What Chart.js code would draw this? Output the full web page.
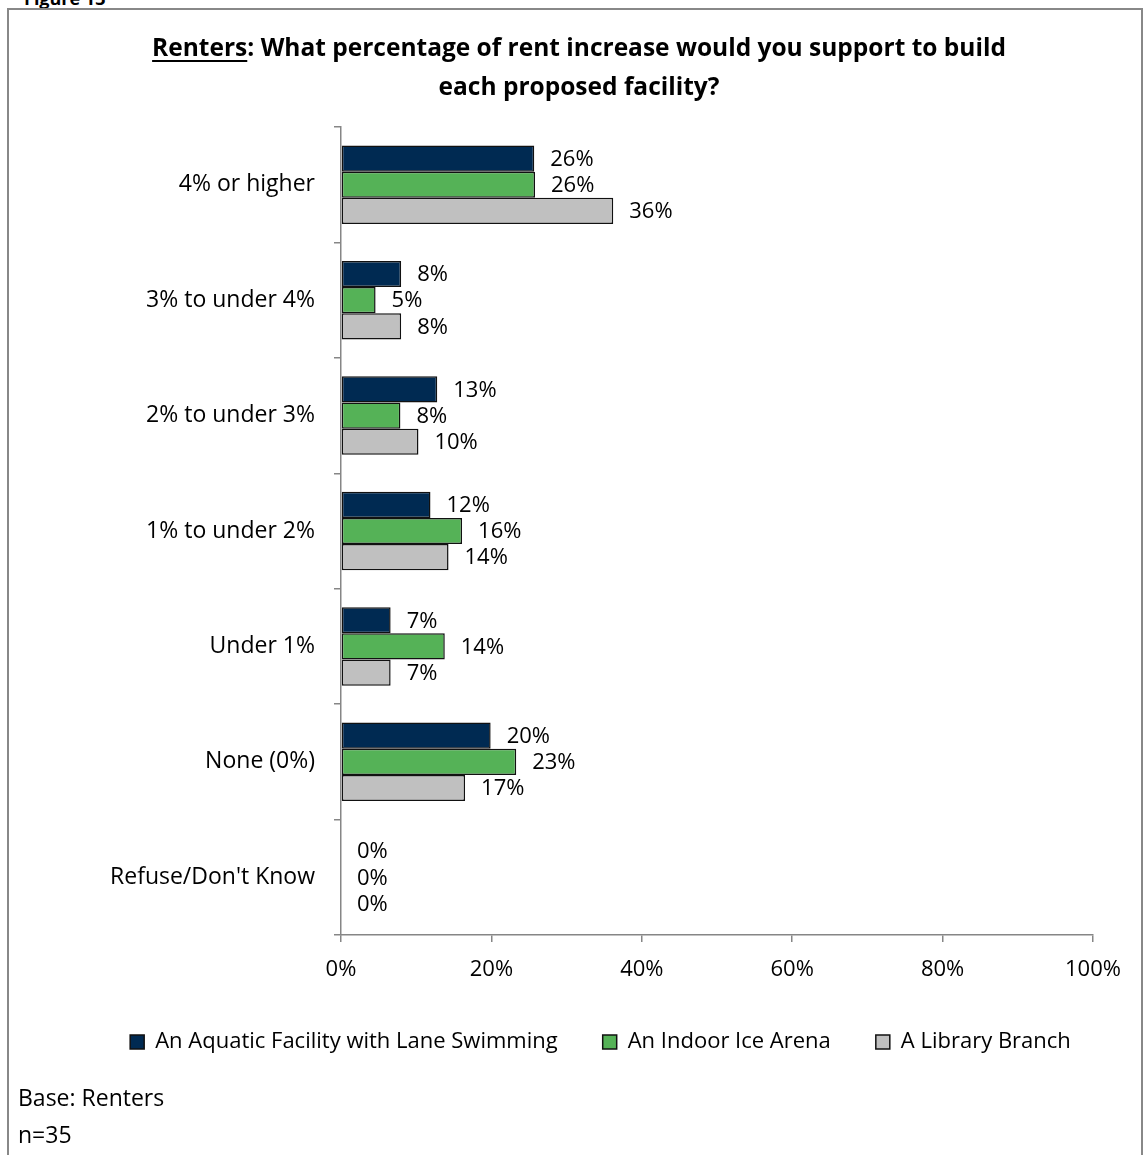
<!DOCTYPE html>
<html>
<head>
<meta charset="utf-8">
<script src="https://cdn.jsdelivr.net/npm/chart.js@4.4.1/dist/chart.umd.min.js"></script>
<style>
  html, body { margin: 0; padding: 0; background: #fff; }
  #wrap { position: relative; width: 1146px; height: 1155px; overflow: hidden; }
  #frame {
    position: absolute; left: 7px; top: 8px; width: 1136px; height: 1200px;
    border: 2px solid #888; box-sizing: border-box;
  }
  #fig { position: absolute; left: 24px; top: -14px; font: bold 18px "Open Sans", sans-serif; color: #000; }
  canvas { position: absolute; left: 0; top: 0; }
</style>
</head>
<body>
<div id="wrap">
  <div id="fig">Figure 13</div>
  <div id="frame"></div>
  <canvas id="rentChart" width="1146" height="1155"></canvas>
</div>
<script>
// ------------------------------------------------------------------
//  Data
// ------------------------------------------------------------------
const categories = ['4% or higher', '3% to under 4%', '2% to under 3%', '1% to under 2%',
                    'Under 1%', 'None (0%)', "Refuse/Don't Know"];
const seriesNames = ['An Aquatic Facility with Lane Swimming', 'An Indoor Ice Arena', 'A Library Branch'];
const aquatic = [25.7, 8.0, 12.8, 11.9, 6.6, 19.9, 0];
const iceArena = [25.8, 4.6, 7.9, 16.1, 13.8, 23.3, 0];
const library = [36.2, 8.0, 10.3, 14.3, 6.6, 16.5, 0];
const xTicks = [0, 20, 40, 60, 80, 100];

const seriesColors = ['#002A52', '#55B257', '#C0C0C0'];
const FONT = '"Open Sans", Lato, sans-serif';

// ------------------------------------------------------------------
//  Plugin: title, bar value labels, footnote
// ------------------------------------------------------------------
const decorations = {
    id: 'decorations',
    afterLayout(chart) {
        // legend sits a bit right of the plot centre in the original
        chart.legend.left += 54;
        chart.legend.right += 54;
    },
    afterDraw(chart) {
        const ctx = chart.ctx;
        ctx.save();
        ctx.fillStyle = '#000';
        ctx.textBaseline = 'alphabetic';

        // title, two centred lines, "Renters" underlined
        ctx.font = 'bold 24.5px ' + FONT;
        const cx = 579;
        const part1 = 'Renters';
        const part2 = ': What percentage of rent increase would you support to build';
        const w1 = ctx.measureText(part1).width;
        const w2 = ctx.measureText(part2).width;
        let x = cx - (w1 + w2) / 2;
        ctx.textAlign = 'left';
        ctx.fillText(part1, x, 56);
        ctx.fillRect(x, 60, w1, 2);
        ctx.fillText(part2, x + w1, 56);
        ctx.textAlign = 'center';
        ctx.fillText('each proposed facility?', cx, 95);

        // value labels at the end of each bar
        ctx.font = '22px ' + FONT;
        ctx.textAlign = 'left';
        ctx.textBaseline = 'middle';
        chart.data.datasets.forEach((ds, di) => {
            chart.getDatasetMeta(di).data.forEach((bar, i) => {
                ctx.fillText(Math.round(ds.data[i]) + '%', bar.x + 16, bar.y + 1);
            });
        });

        // footnote
        ctx.font = '23px ' + FONT;
        ctx.textBaseline = 'alphabetic';
        ctx.fillText('Base: Renters', 18, 1106);
        ctx.fillText('n=35', 18, 1143);
        ctx.restore();
    }
};

const datasets = [aquatic, iceArena, library].map((values, i) => ({
    label: seriesNames[i],
    data: values,
    backgroundColor: seriesColors[i],
    borderColor: '#111',
    borderWidth: 1.5,
    borderSkipped: false,
    categoryPercentage: 0.68,
    barPercentage: 1.0
}));

new Chart(document.getElementById('rentChart'), {
    type: 'bar',
    data: { labels: categories, datasets },
    options: {
        indexAxis: 'y',
        responsive: false,
        animation: false,
        layout: { padding: { top: 127, left: 0, right: 53, bottom: 92 } },
        scales: {
            y: {
                afterFit: s => { s.width = 341; },
                grid: { drawOnChartArea: false, tickLength: 7, color: '#868686', lineWidth: 1.5 },
                border: { color: '#868686', width: 1.5 },
                ticks: { color: '#000', font: { family: FONT, size: 23 }, padding: 19 }
            },
            x: {
                min: 0, max: 100,
                afterFit: s => { s.height = 51; },
                afterBuildTicks: s => { s.ticks = xTicks.map(v => ({ value: v })); },
                grid: { drawOnChartArea: false, tickLength: 7, color: '#868686', lineWidth: 1.5 },
                border: { color: '#868686', width: 1.5 },
                ticks: { color: '#000', font: { family: FONT, size: 22 }, padding: 15,
                         callback: v => v + '%' }
            }
        },
        plugins: {
            title: { display: false },
            tooltip: { enabled: false },
            legend: {
                position: 'bottom',
                labels: { boxWidth: 14, boxHeight: 14, padding: 45, color: '#000',
                          font: { family: FONT, size: 22 } }
            }
        }
    },
    plugins: [decorations]
});
</script>
</body>
</html>
